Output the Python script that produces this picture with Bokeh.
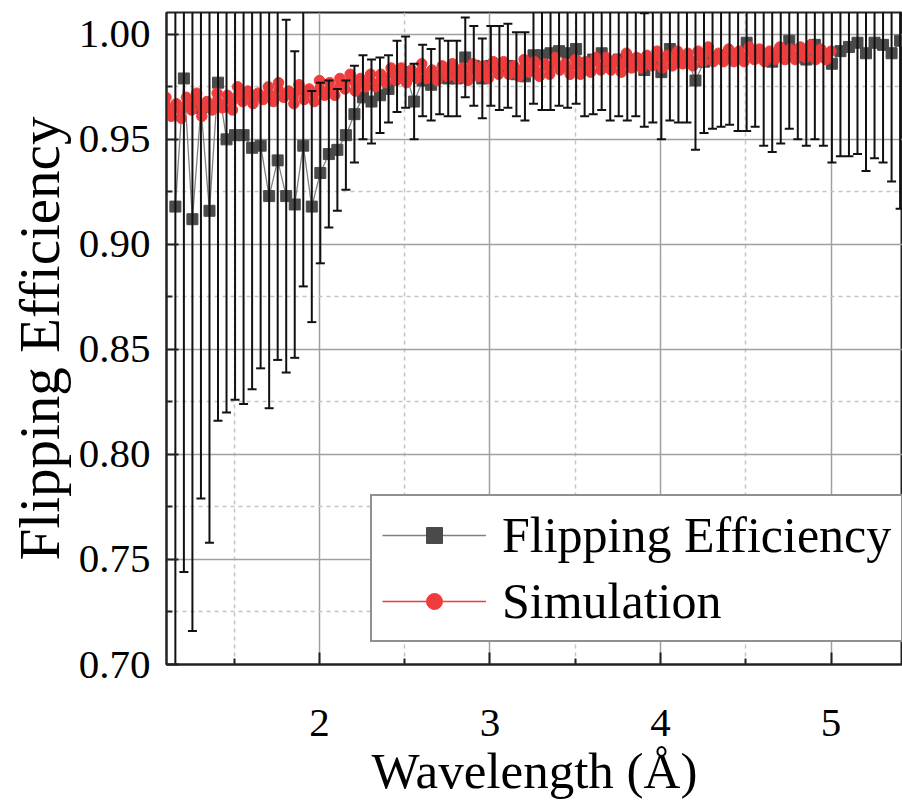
from bokeh.plotting import figure
from bokeh.models import Range1d, FixedTicker, Legend, LegendItem, NumeralTickFormatter, ColumnDataSource
from bokeh.embed import file_html
from bokeh.resources import INLINE

# ---- measured data (flipping efficiency with symmetric error bars) ----
wavelength = [
    1.155, 1.205, 1.255, 1.305, 1.355, 1.405, 1.455, 1.505, 1.555, 1.605,
    1.655, 1.705, 1.755, 1.805, 1.855, 1.905, 1.955, 2.005, 2.055, 2.105,
    2.155, 2.205, 2.255, 2.305, 2.355, 2.405, 2.455, 2.505, 2.555, 2.605,
    2.655, 2.705, 2.755, 2.805, 2.855, 2.905, 2.955, 3.005, 3.055, 3.105,
    3.155, 3.205, 3.255, 3.305, 3.355, 3.405, 3.455, 3.505, 3.555, 3.605,
    3.655, 3.705, 3.755, 3.805, 3.855, 3.905, 3.955, 4.005, 4.055, 4.105,
    4.155, 4.205, 4.255, 4.305, 4.355, 4.405, 4.455, 4.505, 4.555, 4.605,
    4.655, 4.705, 4.755, 4.805, 4.855, 4.905, 4.955, 5.005, 5.055, 5.105,
    5.155, 5.205, 5.255, 5.305, 5.355, 5.405]
efficiency = [
    0.918, 0.979, 0.912, 0.965, 0.916, 0.977, 0.950, 0.952, 0.952, 0.946,
    0.947, 0.923, 0.940, 0.923, 0.919, 0.947, 0.918, 0.934, 0.943, 0.945,
    0.952, 0.962, 0.970, 0.968, 0.971, 0.974, 0.980, 0.982, 0.968, 0.978,
    0.976, 0.980, 0.979, 0.979, 0.989, 0.985, 0.979, 0.985, 0.984, 0.985,
    0.981, 0.980, 0.990, 0.990, 0.991, 0.992, 0.991, 0.993, 0.986, 0.988,
    0.991, 0.987, 0.988, 0.987, 0.988, 0.983, 0.987, 0.982, 0.993, 0.988,
    0.989, 0.978, 0.987, 0.989, 0.990, 0.990, 0.989, 0.996, 0.990, 0.989,
    0.987, 0.990, 0.997, 0.989, 0.988, 0.995, 0.990, 0.986, 0.992, 0.994,
    0.996, 0.991, 0.996, 0.995, 0.991, 0.997]
error = [
    0.250, 0.235, 0.196, 0.186, 0.158, 0.161, 0.130, 0.126, 0.128, 0.115,
    0.106, 0.101, 0.095, 0.084, 0.073, 0.067, 0.055, 0.043, 0.035, 0.029,
    0.026, 0.023, 0.020, 0.020, 0.018, 0.016, 0.017, 0.017, 0.018, 0.017,
    0.017, 0.018, 0.018, 0.018, 0.019, 0.019, 0.019, 0.019, 0.020, 0.020,
    0.020, 0.021, 0.023, 0.026, 0.027, 0.026, 0.026, 0.026, 0.025, 0.026,
    0.027, 0.028, 0.027, 0.028, 0.027, 0.027, 0.029, 0.032, 0.034, 0.030,
    0.031, 0.033, 0.034, 0.034, 0.034, 0.033, 0.035, 0.042, 0.034, 0.042,
    0.043, 0.042, 0.042, 0.039, 0.041, 0.045, 0.043, 0.047, 0.050, 0.052,
    0.053, 0.056, 0.055, 0.056, 0.061, 0.080]

# ---- simulation ----
sim_wavelength = [
    1.10, 1.13, 1.16, 1.19, 1.22, 1.25, 1.28, 1.31, 1.34, 1.37,
    1.40, 1.43, 1.46, 1.49, 1.52, 1.55, 1.58, 1.61, 1.64, 1.67,
    1.70, 1.73, 1.76, 1.79, 1.82, 1.85, 1.88, 1.91, 1.94, 1.97,
    2.00, 2.03, 2.06, 2.09, 2.12, 2.15, 2.18, 2.21, 2.24, 2.27,
    2.30, 2.33, 2.36, 2.39, 2.42, 2.45, 2.48, 2.51, 2.54, 2.57,
    2.60, 2.63, 2.66, 2.69, 2.72, 2.75, 2.78, 2.81, 2.84, 2.87,
    2.90, 2.93, 2.96, 2.99, 3.02, 3.05, 3.08, 3.11, 3.14, 3.17,
    3.20, 3.23, 3.26, 3.29, 3.32, 3.35, 3.38, 3.41, 3.44, 3.47,
    3.50, 3.53, 3.56, 3.59, 3.62, 3.65, 3.68, 3.71, 3.74, 3.77,
    3.80, 3.83, 3.86, 3.89, 3.92, 3.95, 3.98, 4.01, 4.04, 4.07,
    4.10, 4.13, 4.16, 4.19, 4.22, 4.25, 4.28, 4.31, 4.34, 4.37,
    4.40, 4.43, 4.46, 4.49, 4.52, 4.55, 4.58, 4.61, 4.64, 4.67,
    4.70, 4.73, 4.76, 4.79, 4.82, 4.85, 4.88, 4.91, 4.94, 4.97,
    5.00]
sim_value = [
    0.970, 0.961, 0.967, 0.960, 0.970, 0.964, 0.972, 0.961, 0.968, 0.964,
    0.972, 0.965, 0.971, 0.964, 0.975, 0.968, 0.973, 0.967, 0.972, 0.969,
    0.975, 0.968, 0.977, 0.970, 0.973, 0.967, 0.976, 0.969, 0.974, 0.968,
    0.978, 0.971, 0.977, 0.971, 0.979, 0.974, 0.981, 0.973, 0.979, 0.975,
    0.981, 0.975, 0.981, 0.977, 0.984, 0.978, 0.984, 0.977, 0.983, 0.979,
    0.986, 0.979, 0.983, 0.978, 0.985, 0.980, 0.986, 0.979, 0.984, 0.978,
    0.986, 0.980, 0.985, 0.979, 0.987, 0.981, 0.987, 0.981, 0.985, 0.980,
    0.988, 0.982, 0.987, 0.980, 0.986, 0.981, 0.989, 0.983, 0.986, 0.981,
    0.988, 0.981, 0.987, 0.982, 0.989, 0.983, 0.989, 0.983, 0.988, 0.982,
    0.991, 0.984, 0.989, 0.984, 0.990, 0.985, 0.992, 0.984, 0.990, 0.985,
    0.992, 0.986, 0.991, 0.985, 0.992, 0.987, 0.994, 0.987, 0.991, 0.987,
    0.993, 0.987, 0.992, 0.987, 0.994, 0.988, 0.993, 0.987, 0.992, 0.988,
    0.994, 0.988, 0.993, 0.988, 0.994, 0.989, 0.995, 0.988, 0.993, 0.988,
    0.992]

# ---- axes ----
x_ticks = [1, 2, 3, 4, 5]
x_minor_ticks = [1.5, 2.5, 3.5, 4.5, 5.5]
y_ticks = [0.70, 0.75, 0.80, 0.85, 0.90, 0.95, 1.00]
y_minor_ticks = [0.725, 0.775, 0.825, 0.875, 0.925, 0.975, 1.025]
x_title = "Wavelength (Å)"
y_title = "Flipping Efficiency"
series_names = ["Flipping Efficiency", "Simulation"]

SERIF = "Liberation Serif"
GRAY_LINE = "#808080"
GRAY_MARK = "#4a4a4a"
RED = "#ef3d3d"

p = figure(width=902, height=801, output_backend="svg", toolbar_location=None,
           x_range=Range1d(1.103, 5.419), y_range=Range1d(0.70, 1.0104),
           min_border_left=166, min_border_right=0, min_border_top=12,
           min_border_bottom=135)
p.background_fill_color = "white"
p.border_fill_color = "white"
p.outline_line_color = "#222222"
p.outline_line_width = 2

# grids
for g in (p.xgrid, p.ygrid):
    g.grid_line_color = "#a0a0a0"
    g.grid_line_width = 1.5
    g.minor_grid_line_color = "#c4c4c4"
    g.minor_grid_line_width = 1.5
    g.minor_grid_line_dash = "4 4"

p.xaxis.ticker = FixedTicker(ticks=x_ticks, minor_ticks=x_minor_ticks)
p.yaxis.ticker = FixedTicker(ticks=y_ticks, minor_ticks=y_minor_ticks)
p.yaxis.formatter = NumeralTickFormatter(format="0.00")
p.xaxis.formatter = NumeralTickFormatter(format="0")

for ax in (p.xaxis[0], p.yaxis[0]):
    ax.axis_line_color = "#222222"
    ax.axis_line_width = 2
    ax.major_tick_line_color = "#222222"
    ax.major_tick_line_width = 2
    ax.minor_tick_line_color = "#222222"
    ax.minor_tick_line_width = 2
    ax.major_tick_in = 12
    ax.major_tick_out = 0
    ax.minor_tick_in = 6
    ax.minor_tick_out = 0
    ax.major_label_text_font = SERIF
    ax.major_label_text_font_size = "41px"
    ax.major_label_text_color = "black"
    ax.axis_label_text_font = SERIF
    ax.axis_label_text_font_style = "normal"
    ax.axis_label_text_color = "black"

p.xaxis.axis_label = x_title
p.xaxis.axis_label_text_font_size = "51px"
p.xaxis.major_label_standoff = 45
p.xaxis.axis_label_standoff = 4

p.yaxis.axis_label = y_title
p.yaxis.axis_label_text_font_size = "57px"
p.yaxis.major_label_standoff = 16
p.yaxis.axis_label_standoff = 5

# ---- data renderers ----
src = ColumnDataSource(data=dict(
    x=wavelength, y=efficiency,
    lo=[v - e for v, e in zip(efficiency, error)],
    hi=[v + e for v, e in zip(efficiency, error)]))
sim = ColumnDataSource(data=dict(x=sim_wavelength, y=sim_value))

fe_line = p.line("x", "y", source=src, line_color=GRAY_LINE, line_width=1.3)
fe_pts = p.scatter("x", "y", source=src, marker="square", size=11,
                   fill_color=GRAY_MARK, line_color=GRAY_MARK)

# thick band stroke (not in legend) + thin line and circles (in legend)
p.line("x", "y", source=sim, line_color=RED, line_width=6)
sim_line = p.line("x", "y", source=sim, line_color=RED, line_width=1.5)
sim_pts = p.scatter("x", "y", source=sim, marker="circle", size=10.5,
                    fill_color=RED, line_color=RED)

# error bars (drawn on top, clipped to the frame)
p.segment(x0="x", y0="lo", x1="x", y1="hi", source=src,
          line_color="#111111", line_width=2)
p.scatter("x", "hi", source=src, marker="dash", size=9,
          line_color="#111111", line_width=2)
p.scatter("x", "lo", source=src, marker="dash", size=9,
          line_color="#111111", line_width=2)

legend = Legend(items=[
    LegendItem(label=series_names[0], renderers=[fe_line, fe_pts]),
    LegendItem(label=series_names[1], renderers=[sim_line, sim_pts]),
], location=(204, 22))
legend.label_text_font = SERIF
legend.label_text_font_size = "50px"
legend.label_text_color = "black"
legend.glyph_width = 104
legend.glyph_height = 40
legend.label_standoff = 16
legend.padding = 10
legend.spacing = 8
legend.margin = 0
legend.border_line_color = "#222222"
legend.border_line_width = 2
legend.background_fill_color = "white"
legend.background_fill_alpha = 1.0
p.add_layout(legend)

open("out.html", "w").write(file_html(p, INLINE))
